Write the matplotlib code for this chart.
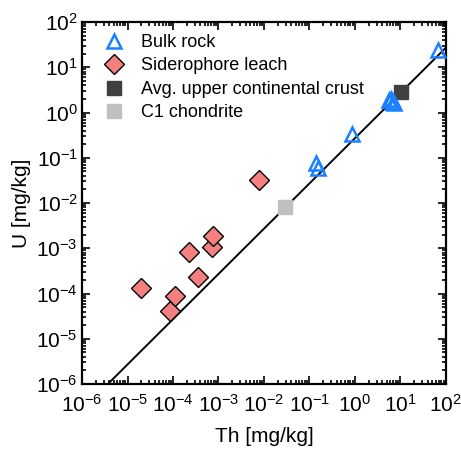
import numpy as np
import matplotlib
matplotlib.use('Agg')
import matplotlib.pyplot as plt

plt.rcParams['font.family'] = ['Liberation Sans', 'DejaVu Sans']
plt.rcParams['mathtext.fontset'] = 'custom'
plt.rcParams['mathtext.rm'] = 'Liberation Sans'
plt.rcParams['mathtext.it'] = 'Liberation Sans'
plt.rcParams['mathtext.default'] = 'regular'

# --- data ---
bulk_th = [67, 5.5, 6.2, 6.8, 7.2, 0.87, 0.14, 0.155]
bulk_u = [24, 1.9, 2.0, 1.7, 1.6, 0.33, 0.075, 0.058]

leach_th = [2.0e-5, 8.6e-5, 1.1e-4, 2.2e-4, 3.5e-4, 7.1e-4, 7.7e-4, 7.8e-3]
leach_u = [1.3e-4, 4.2e-5, 8.9e-5, 8.2e-4, 2.3e-4, 1.05e-3, 1.9e-3, 0.033]

crust_th = [10.3]
crust_u = [2.8]

chondrite_th = [0.029]
chondrite_u = [0.0081]

u_th_ratio = 0.27
line_th = np.array([1e-6, 1e2])
line_u = line_th * u_th_ratio

fig = plt.figure(figsize=(4.61, 4.50), dpi=100)
ax = fig.add_axes([0.178, 0.1467, 0.789, 0.8043])

ax.plot(line_th, line_u, color='black', lw=1.4, zorder=1)
ax.plot(bulk_th, bulk_u, ls='none', marker='^', ms=10, mfc='none',
        mec='#1a80ff', mew=1.8, label='Bulk rock', zorder=3)
ax.plot(leach_th, leach_u, ls='none', marker='D', ms=10, mfc='#f47f7f',
        mec='black', mew=1.0, label='Siderophore leach', zorder=3)
ax.plot(crust_th, crust_u, ls='none', marker='s', ms=10, mfc='#404040',
        mec='#404040', label='Avg. upper continental crust', zorder=2)
ax.plot(chondrite_th, chondrite_u, ls='none', marker='s', ms=10, mfc='#c0c0c0',
        mec='#c0c0c0', label='C1 chondrite', zorder=2)

ax.set_xscale('log')
ax.set_yscale('log')
ax.set_xlim(1e-6, 1e2)
ax.set_ylim(1e-6, 1e2)
ax.xaxis.set_major_locator(matplotlib.ticker.LogLocator(base=10, numticks=20))
ax.yaxis.set_major_locator(matplotlib.ticker.LogLocator(base=10, numticks=20))
ax.xaxis.set_minor_locator(matplotlib.ticker.LogLocator(base=10, subs=np.arange(2, 10), numticks=100))
ax.yaxis.set_minor_locator(matplotlib.ticker.LogLocator(base=10, subs=np.arange(2, 10), numticks=100))
ax.tick_params(which='both', direction='in', top=True, right=True, width=1.2)
ax.tick_params(which='major', length=6, labelsize=15)
ax.tick_params(axis='x', which='major', pad=7)
ax.tick_params(axis='y', which='major', pad=3)
ax.tick_params(which='minor', length=3)
ax.xaxis.set_minor_formatter(matplotlib.ticker.NullFormatter())
ax.yaxis.set_minor_formatter(matplotlib.ticker.NullFormatter())
for s in ax.spines.values():
    s.set_linewidth(1.6)

ax.set_xlabel('Th [mg/kg]', fontsize=15, labelpad=8)
ax.set_ylabel('U [mg/kg]', fontsize=15, labelpad=4)

ax.legend(loc='upper left', bbox_to_anchor=(0.062, 0.967), frameon=False,
          fontsize=13, handlelength=1.0, handletextpad=1.0, labelspacing=0.36,
          borderpad=0, borderaxespad=0)

fig.savefig('out.png', dpi=100)
